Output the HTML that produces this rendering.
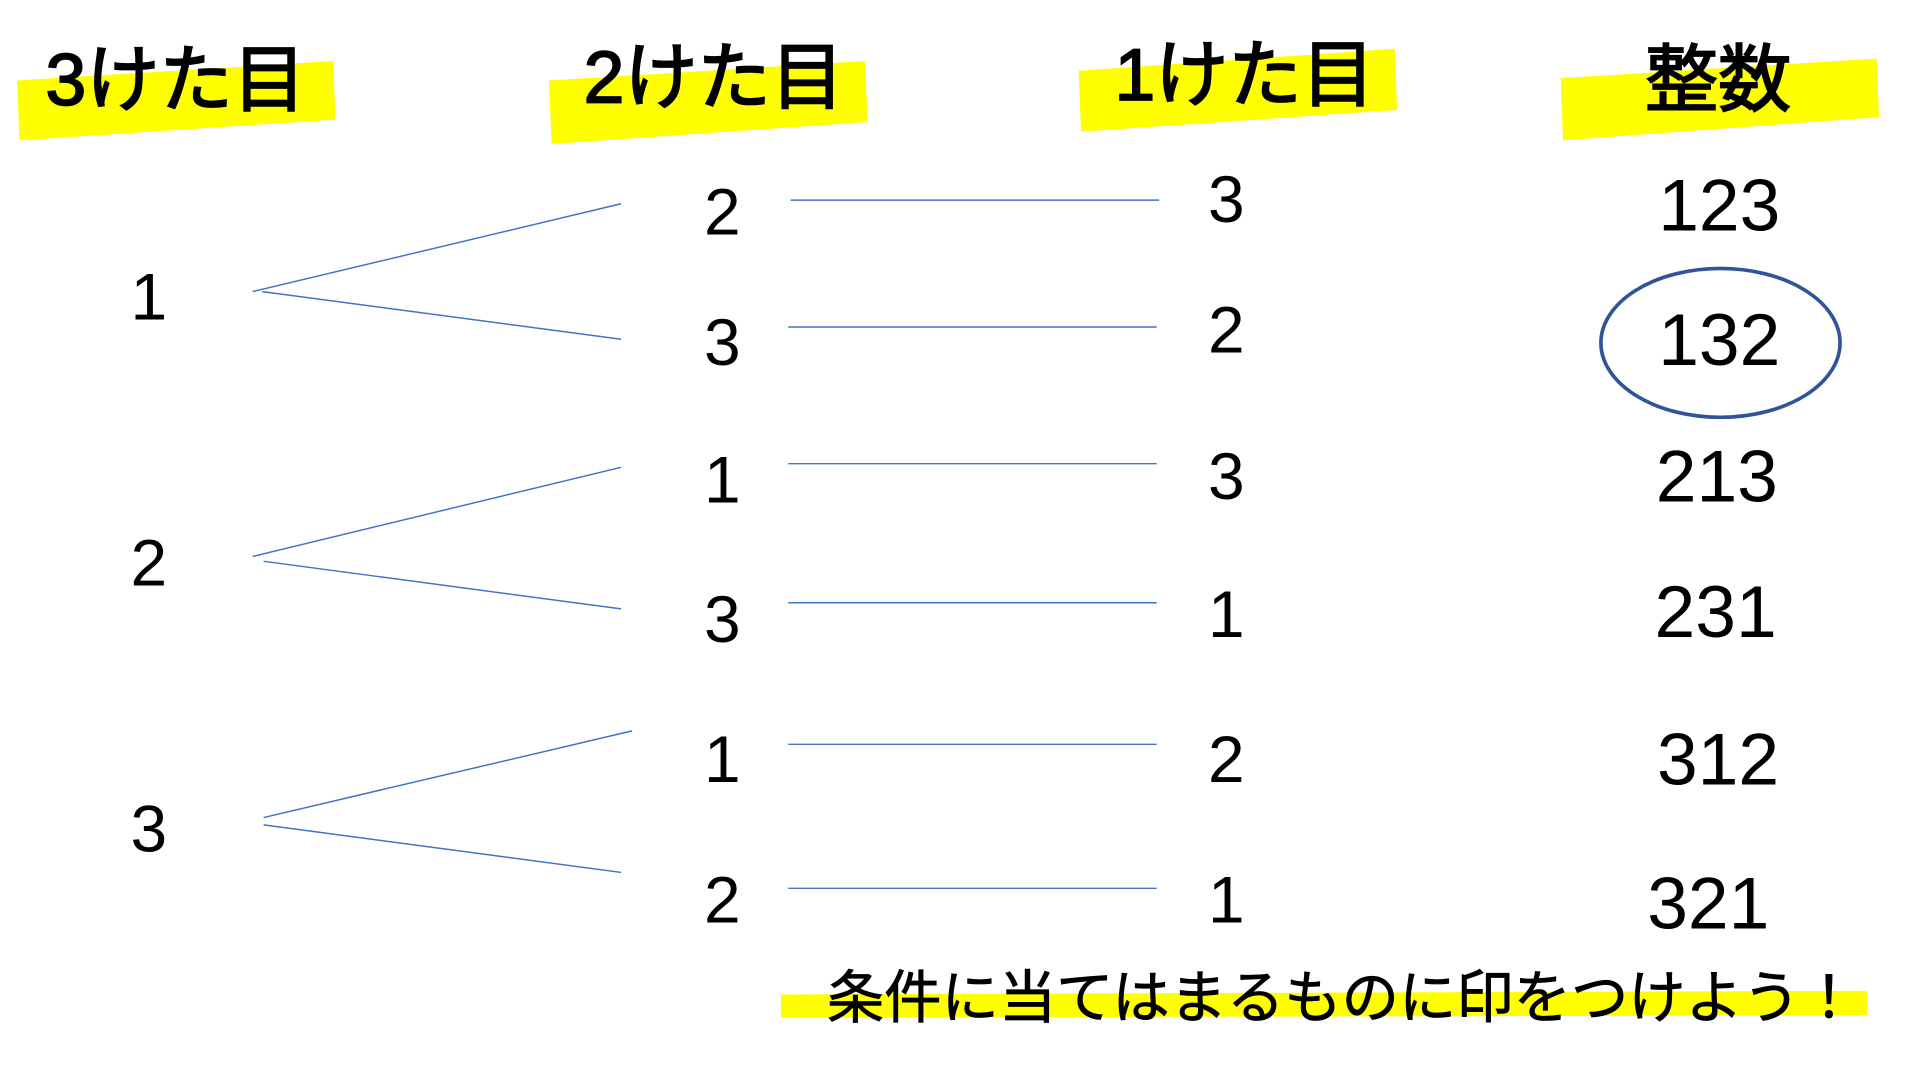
<!DOCTYPE html>
<html><head><meta charset="utf-8"><style>
html,body{margin:0;padding:0;background:#fff;overflow:hidden;width:1906px;height:1062px}
#w{position:absolute;left:0;top:0;width:1562px;height:870px;transform:scale(1.2202);transform-origin:0 0}
svg text{font-family:"Liberation Sans","Noto Sans CJK JP",sans-serif;fill:#000}
</style></head><body><div id="w">
<svg width="1562" height="870" viewBox="0 0 1562 870" xmlns="http://www.w3.org/2000/svg">
<g fill="#ffff00">
<polygon points="14,66 273,50 275,98 16,115"/>
<polygon points="450,66 709,50 711,100 452,118"/>
<polygon points="884,58 1143,40 1145,90 886,108"/>
<polygon points="1279,64 1538,48 1540,96 1281,115"/>
<polygon points="640,815 1530,812 1530,832 640,834"/>
</g>
<g font-size="60" text-anchor="middle" stroke="#000" stroke-width="1.5">
<text x="144" y="86">3けた目</text>
<text x="585" y="84">2けた目</text>
<text x="1020" y="82">1けた目</text>
<text x="1408" y="86">整数</text>
</g>
<text x="1100" y="834" font-size="47" text-anchor="middle" stroke="#000" stroke-width="0.6">条件に当てはまるものに印をつけよう！</text>
<g stroke="#4472c4" stroke-width="1.2">
<line x1="207" y1="239" x2="509" y2="167"/><line x1="215" y1="239" x2="509" y2="278"/>
<line x1="207" y1="456" x2="509" y2="383"/><line x1="216" y1="460" x2="509" y2="499"/>
<line x1="216" y1="670" x2="518" y2="599"/><line x1="216" y1="676" x2="509" y2="715"/>
<line x1="648" y1="164" x2="950" y2="164"/><line x1="646" y1="268" x2="948" y2="268"/>
<line x1="646" y1="380" x2="948" y2="380"/><line x1="646" y1="494" x2="948" y2="494"/>
<line x1="646" y1="610" x2="948" y2="610"/><line x1="646" y1="728" x2="948" y2="728"/>
</g>
<ellipse cx="1410" cy="281" rx="98" ry="61" fill="none" stroke="#2f5597" stroke-width="3"/>
<g font-size="54" text-anchor="middle">
<text x="122" y="262">1</text><text x="122" y="480">2</text><text x="122" y="698">3</text>
<text x="592" y="192">2</text><text x="592" y="299">3</text><text x="592" y="412">1</text>
<text x="592" y="526">3</text><text x="592" y="641">1</text><text x="592" y="756">2</text>
<text x="1005" y="182">3</text><text x="1005" y="289">2</text><text x="1005" y="409">3</text>
<text x="1005" y="522">1</text><text x="1005" y="641">2</text><text x="1005" y="756">1</text>
</g>
<g font-size="60" text-anchor="middle">
<text x="1409" y="189">123</text><text x="1409" y="299">132</text><text x="1407" y="411">213</text>
<text x="1406" y="522">231</text><text x="1408" y="643">312</text><text x="1400" y="761">321</text>
</g>
</svg></div></body></html>
